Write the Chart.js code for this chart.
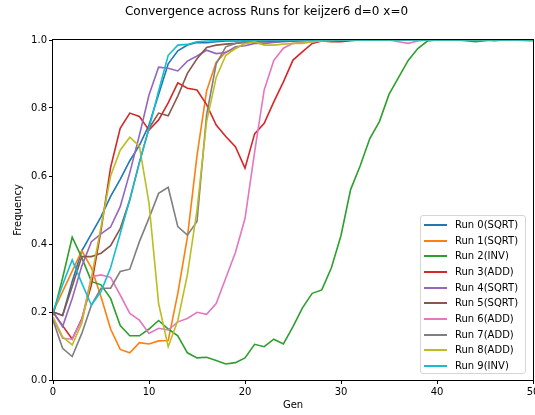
<!DOCTYPE html>
<html>
<head>
<meta charset="utf-8">
<script src="https://cdn.jsdelivr.net/npm/chart.js@4.4.1/dist/chart.umd.min.js"></script>
<style>
  html, body { margin: 0; padding: 0; background: #fff; }
  #wrap { position: relative; width: 535px; height: 415px; }
  #legend {
    position: absolute; left: 420px; top: 215px; width: 106px; height: 159px;
    border: 1px solid #d6d6d6; border-radius: 3px; background: rgba(255,255,255,0.8);
    font-family: 'DejaVu Sans', sans-serif; font-size: 10px; color: #000; box-sizing: border-box;
  }
  .row { position: absolute; left: 0; width: 100%; height: 14px; line-height: 14px; white-space: nowrap; }
  .sw { position: absolute; left: 3px; width: 23px; height: 2px; top: 6px; }
  .lb { position: absolute; left: 34px; top: 0; }
</style>
</head>
<body>
<div id="wrap">
  <canvas id="c" width="535" height="415"></canvas>
  <div id="legend"></div>
</div>
<script>
const titleText = "Convergence across Runs for keijzer6 d=0 x=0";
const xTitle = "Gen";
const yTitle = "Frequency";
const gens = [0,1,2,3,4,5,6,7,8,9,10,11,12,13,14,15,16,17,18,19,20,21,22,23,24,25,26,27,28,29,30,31,32,33,34,35,36,37,38,39,40,41,42,43,44,45,46,47,48,49,50];
const runLabels = ["Run 0(SQRT)","Run 1(SQRT)","Run 2(INV)","Run 3(ADD)","Run 4(SQRT)","Run 5(SQRT)","Run 6(ADD)","Run 7(ADD)","Run 8(ADD)","Run 9(INV)"];
const runColors = ["#1f77b4","#ff7f0e","#2ca02c","#d62728","#9467bd","#8c564b","#e377c2","#7f7f7f","#bcbd22","#17becf"];

const run0 = [0.20,0.19,0.29,0.38,0.43,0.48,0.54,0.59,0.645,0.69,0.75,0.84,0.93,0.968,0.985,0.993,0.992,0.995,0.997,0.997,0.998,1.0,1.0,0.999,1.0,1.0,1.0,1.0,0.999,1.0,1.0,1.0,1.0,1.0,1.0,1.0,1.0,1.0,1.0,1.0,1.0,1.0,1.0,1.0,1.0,1.0,1.0,1.0,1.0,1.0,1.0];
const run1 = [0.20,0.26,0.32,0.38,0.33,0.245,0.15,0.09,0.08,0.11,0.106,0.115,0.116,0.255,0.42,0.66,0.85,0.935,0.965,0.975,0.99,0.995,0.995,0.998,1.0,1.0,1.0,0.999,1.0,1.0,1.0,1.0,1.0,1.0,1.0,1.0,1.0,1.0,1.0,1.0,1.0,1.0,1.0,1.0,1.0,1.0,1.0,1.0,1.0,1.0,1.0];
const run2 = [0.19,0.30,0.42,0.36,0.29,0.28,0.24,0.16,0.13,0.13,0.15,0.175,0.15,0.13,0.08,0.065,0.067,0.057,0.047,0.051,0.065,0.105,0.098,0.12,0.106,0.157,0.213,0.255,0.265,0.33,0.425,0.56,0.63,0.71,0.76,0.84,0.89,0.94,0.975,0.997,1.0,1.0,1.0,0.998,0.995,0.998,1.0,1.0,1.0,0.999,0.998];
const run3 = [0.20,0.16,0.12,0.18,0.28,0.44,0.625,0.74,0.785,0.775,0.735,0.765,0.815,0.874,0.858,0.853,0.81,0.75,0.716,0.686,0.623,0.724,0.755,0.818,0.877,0.941,0.966,0.99,0.997,0.995,0.995,0.998,1.0,1.0,1.0,1.0,1.0,1.0,1.0,1.0,1.0,1.0,1.0,1.0,1.0,1.0,1.0,1.0,1.0,1.0,1.0];
const run4 = [0.20,0.157,0.24,0.335,0.407,0.43,0.45,0.51,0.61,0.72,0.838,0.92,0.917,0.909,0.938,0.953,0.97,0.96,0.963,0.98,0.983,0.99,0.99,0.993,0.995,0.997,0.998,1.0,1.0,1.0,1.0,1.0,1.0,1.0,1.0,1.0,1.0,1.0,1.0,1.0,1.0,1.0,1.0,1.0,1.0,1.0,1.0,1.0,1.0,1.0,1.0];
const run5 = [0.20,0.19,0.275,0.363,0.363,0.373,0.395,0.445,0.53,0.64,0.74,0.785,0.777,0.835,0.902,0.945,0.978,0.985,0.988,0.99,0.993,0.995,0.996,0.997,0.998,0.997,0.998,1.0,1.0,1.0,0.998,1.0,1.0,1.0,1.0,1.0,1.0,1.0,1.0,1.0,1.0,1.0,1.0,1.0,1.0,1.0,0.998,1.0,1.0,1.0,1.0];
const run6 = [0.18,0.123,0.12,0.176,0.304,0.309,0.302,0.25,0.196,0.176,0.137,0.152,0.147,0.171,0.181,0.199,0.193,0.225,0.30,0.375,0.475,0.67,0.853,0.94,0.976,0.99,0.993,0.995,0.997,0.998,1.0,1.0,1.0,1.0,1.0,1.0,0.995,0.99,0.997,1.0,1.0,1.0,1.0,1.0,1.0,1.0,1.0,1.0,1.0,1.0,1.0];
const run7 = [0.176,0.093,0.069,0.137,0.22,0.27,0.27,0.319,0.326,0.407,0.476,0.549,0.567,0.451,0.426,0.466,0.78,0.93,0.98,0.99,0.995,0.997,0.998,1.0,1.0,1.0,1.0,1.0,1.0,1.0,1.0,1.0,1.0,1.0,1.0,1.0,1.0,1.0,1.0,1.0,1.0,1.0,1.0,1.0,1.0,1.0,1.0,1.0,1.0,1.0,1.0];
const run8 = [0.186,0.127,0.103,0.167,0.30,0.45,0.60,0.676,0.714,0.688,0.52,0.225,0.098,0.175,0.31,0.50,0.76,0.89,0.955,0.975,0.99,0.995,0.985,0.985,0.988,0.99,0.99,0.995,0.998,1.0,1.0,1.0,1.0,1.0,1.0,1.0,1.0,1.0,1.0,1.0,1.0,1.0,1.0,1.0,1.0,1.0,1.0,1.0,1.0,1.0,1.0];
const run9 = [0.20,0.28,0.353,0.285,0.22,0.26,0.33,0.43,0.53,0.64,0.74,0.85,0.955,0.985,0.987,0.995,0.997,0.998,1.0,1.0,1.0,1.0,1.0,1.0,1.0,1.0,1.0,1.0,1.0,1.0,1.0,1.0,1.0,1.0,1.0,1.0,1.0,1.0,1.0,1.0,1.0,1.0,1.0,1.0,1.0,1.0,1.0,1.0,1.0,1.0,1.0];
const xTicks = [0,10,20,30,40,50];
const yTicks = [0.0,0.2,0.4,0.6,0.8,1.0];

const runs = [run0,run1,run2,run3,run4,run5,run6,run7,run8,run9];
const FONT = "'DejaVu Sans', sans-serif";

const datasets = runs.map((r, i) => ({
  label: runLabels[i],
  data: r.map((v, j) => ({x: gens[j], y: v})),
  borderColor: runColors[i],
  backgroundColor: runColors[i],
  borderWidth: 1.6,
  pointRadius: 0,
  tension: 0,
  fill: false,
  order: runs.length - 1 - i
}));

const frame = {
  id: 'frame',
  afterDraw(chart) {
    const {ctx, chartArea: a} = chart;
    ctx.save();
    ctx.strokeStyle = '#000';
    ctx.lineWidth = 1;
    ctx.strokeRect(Math.round(a.left) - 0.5, Math.round(a.top) - 0.5, Math.round(a.right - a.left) + 1, Math.round(a.bottom - a.top) + 1);
    ctx.restore();
  }
};

new Chart(document.getElementById('c'), {
  type: 'line',
  data: { datasets },
  plugins: [frame],
  options: {
    responsive: false,
    animation: false,
    layout: { padding: { top: 4.8, right: 2, bottom: 0, left: 0 } },
    plugins: {
      legend: { display: false },
      tooltip: { enabled: false },
      title: {
        display: true, text: titleText, color: '#000',
        font: { family: FONT, size: 12, weight: 'normal' },
        padding: { top: 0, bottom: 20.8 }
      }
    },
    scales: {
      x: {
        type: 'linear', min: 0, max: 50,
        afterBuildTicks(s) { s.ticks = xTicks.map(v => ({value: v})); },
        afterFit(s) { s.height = 35; s.paddingLeft = 0; s.paddingRight = 0; },
        ticks: { color: '#000', font: { family: FONT, size: 10 }, padding: 2, maxRotation: 0, autoSkip: false },
        grid: { display: true, drawOnChartArea: false, drawTicks: true, tickLength: 4, tickColor: '#000', color: '#000' },
        border: { display: false },
        title: { display: true, text: xTitle, color: '#000', font: { family: FONT, size: 10 }, padding: { top: 0, bottom: 4 } }
      },
      y: {
        type: 'linear', min: 0, max: 1.0,
        afterBuildTicks(s) { s.ticks = yTicks.map(v => ({value: v})); },
        afterFit(s) { s.width = 53; s.paddingTop = 0; s.paddingBottom = 0; },
        ticks: { color: '#000', font: { family: FONT, size: 10 }, padding: 2, callback: v => Number(v).toFixed(1) },
        grid: { display: true, drawOnChartArea: false, drawTicks: true, tickLength: 4, tickColor: '#000', color: '#000' },
        border: { display: false },
        title: { display: true, text: yTitle, color: '#000', font: { family: FONT, size: 10 }, padding: { top: 12, bottom: 0 } }
      }
    }
  }
});

const lg = document.getElementById('legend');
runLabels.forEach((lab, i) => {
  const row = document.createElement('div');
  row.className = 'row';
  row.style.top = Math.round(2 + i * 15.67) + 'px';
  const sw = document.createElement('div');
  sw.className = 'sw';
  sw.style.backgroundColor = runColors[i];
  const tx = document.createElement('span');
  tx.className = 'lb';
  tx.textContent = lab;
  row.appendChild(sw); row.appendChild(tx);
  lg.appendChild(row);
});
</script>
</body>
</html>
